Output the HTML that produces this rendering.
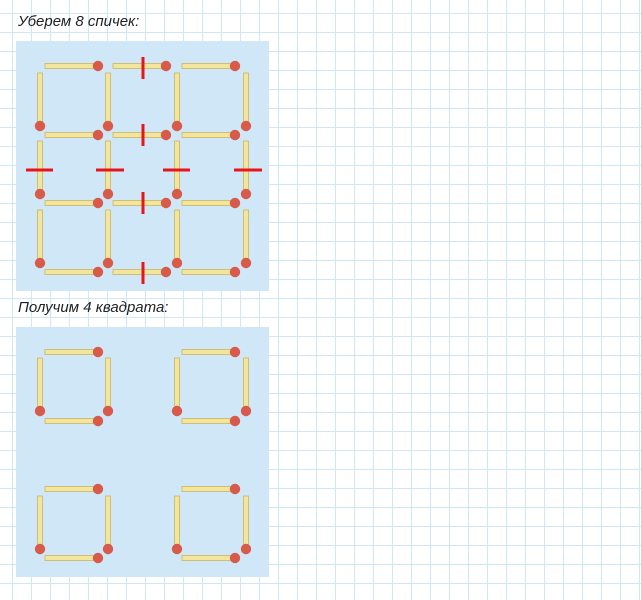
<!DOCTYPE html>
<html><head><meta charset="utf-8"><style>
html,body{margin:0;padding:0}
body{width:641px;height:600px;overflow:hidden;background-color:#fff;
background-image:linear-gradient(to right,#cfe6f8 1px,transparent 1px),linear-gradient(to bottom,#cfe6f8 1px,transparent 1px);
background-size:19px 19px;background-position:12px 13px;position:relative;
font-family:"Liberation Sans",sans-serif}
.t{position:absolute;left:18px;font-style:italic;font-size:15px;color:#222}
</style></head><body>
<div class="t" style="top:13px">Уберем 8 спичек:</div>
<div class="t" style="top:299px">Получим 4 квадрата:</div>
<svg width="641" height="600" style="position:absolute;left:0;top:0">
<defs>
<g id="h"><rect x="-53" y="-2.5" width="53" height="5" fill="#f3e69a" stroke="#c9b56a" stroke-width="0.8"/><circle cx="0" cy="0" r="5.2" fill="#d85a4a"/></g>
<g id="v"><rect x="-2.5" y="-53" width="5" height="53" fill="#f3e69a" stroke="#c9b56a" stroke-width="0.8"/><circle cx="0" cy="0" r="5.2" fill="#d85a4a"/></g>
</defs>
<rect x="16" y="41" width="253" height="250" fill="#d0e7f8"/>
<rect x="16" y="327" width="253" height="250" fill="#d0e7f8"/>
<g>
<use href="#h" x="98" y="66"/><use href="#h" x="166" y="66"/><use href="#h" x="235" y="66"/>
<use href="#h" x="98" y="135"/><use href="#h" x="166" y="135"/><use href="#h" x="235" y="135"/>
<use href="#h" x="98" y="203"/><use href="#h" x="166" y="203"/><use href="#h" x="235" y="203"/>
<use href="#h" x="98" y="272"/><use href="#h" x="166" y="272"/><use href="#h" x="235" y="272"/>
<use href="#v" x="40" y="126"/><use href="#v" x="108" y="126"/><use href="#v" x="177" y="126"/><use href="#v" x="246" y="126"/>
<use href="#v" x="40" y="194"/><use href="#v" x="108" y="194"/><use href="#v" x="177" y="194"/><use href="#v" x="246" y="194"/>
<use href="#v" x="40" y="263"/><use href="#v" x="108" y="263"/><use href="#v" x="177" y="263"/><use href="#v" x="246" y="263"/>
</g>
<g stroke="#e8141c" stroke-width="3">
<line x1="143" y1="57" x2="143" y2="79"/><line x1="143" y1="124" x2="143" y2="146"/>
<line x1="143" y1="192" x2="143" y2="214"/><line x1="143" y1="262" x2="143" y2="284"/>
<line x1="26" y1="170" x2="53" y2="170"/><line x1="96" y1="170" x2="124" y2="170"/>
<line x1="163" y1="170" x2="190" y2="170"/><line x1="234" y1="170" x2="262" y2="170"/>
</g>
<g>
<use href="#h" x="98" y="352"/><use href="#h" x="98" y="421"/><use href="#v" x="40" y="411"/><use href="#v" x="108" y="411"/>
<use href="#h" x="235" y="352"/><use href="#h" x="235" y="421"/><use href="#v" x="177" y="411"/><use href="#v" x="246" y="411"/>
<use href="#h" x="98" y="489"/><use href="#h" x="98" y="558"/><use href="#v" x="40" y="549"/><use href="#v" x="108" y="549"/>
<use href="#h" x="235" y="489"/><use href="#h" x="235" y="558"/><use href="#v" x="177" y="549"/><use href="#v" x="246" y="549"/>
</g>
</svg>
</body></html>
